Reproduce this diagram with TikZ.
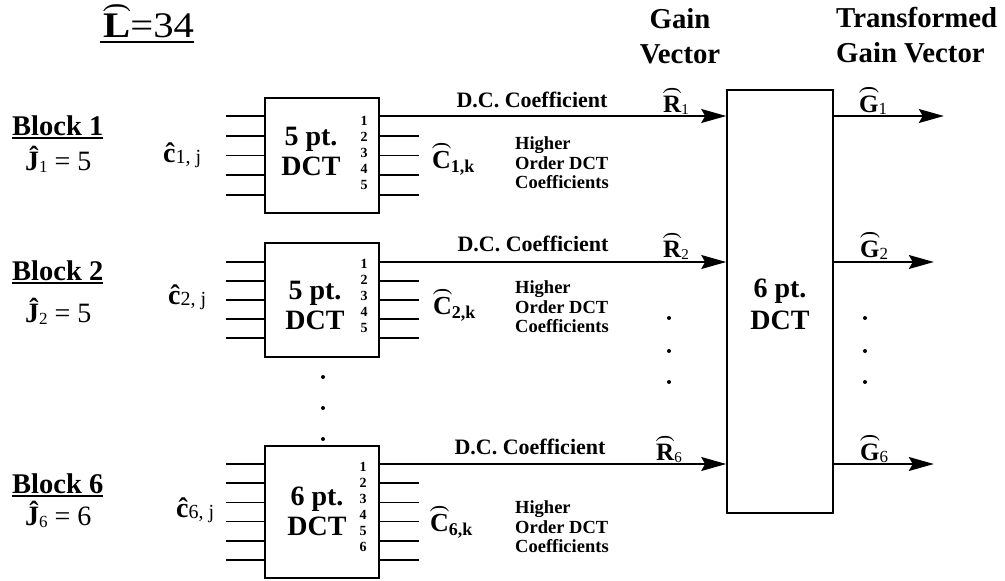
\documentclass[tikz,border=0pt]{standalone}
\usepackage{fontspec}
\setmainfont{Liberation Serif}
\usepackage{graphicx}
\usetikzlibrary{arrows.meta,calc}

\newsavebox\archA
\newsavebox\archB
\newcommand{\archat}[1]{%
  \sbox\archA{#1}%
  \sbox\archB{\resizebox{\wd\archA}{!}{\rotatebox{-90}{\mdseries(}}}%
  \leavevmode\rlap{\hbox to \wd\archA{\hss\raisebox{\dimexpr\ht\archA+\dp\archB+1.5pt\relax}{\usebox\archB}\hss}}%
  \usebox\archA}
\newcommand{\fsz}[1]{\fontsize{#1}{#1}\selectfont}
\newcommand{\lsub}[3]{{\raisebox{-#2pt}{\fontsize{#1}{#1}\selectfont #3}}}

\begin{document}
\begin{tikzpicture}[x=1pt,y=-1pt,
  lbl/.style={inner sep=0pt, anchor=base west},
  head/.style={lbl, font=\fsz{28.8}\bfseries},
  blk/.style={lbl, font=\fsz{28.5}\bfseries},
  jlab/.style={lbl, font=\fsz{28}},
  dctbox/.style={draw, line width=1.6pt, minimum width=114pt, inner sep=0pt},
  boxtxt/.style={inner sep=0pt, align=center, font=\fontsize{28}{30}\selectfont\bfseries},
  nums/.style={inner sep=0pt, align=center, font=\fontsize{14}{16}\selectfont\bfseries},
  dclab/.style={inner sep=0pt, font=\fsz{22}\bfseries},
  hoc/.style={inner sep=0pt, anchor=west, align=left, font=\fontsize{18.5}{19.5}\selectfont\bfseries},
  wire/.style={line width=1.6pt},
  arr/.style={wire, -{Stealth[length=25pt,width=14pt,inset=4pt]}},
  dotn/.style={circle, fill, inner sep=0pt, minimum size=4pt},
  uline/.style={line width=1.5pt}
]
\useasboundingbox (0,0) rectangle (1005,581);

% headers
\node[lbl, font=\fsz{36}] (Lh) at (103,37) {\scalebox{1.13}[1]{\archat{\bfseries L}=34}};
\draw[uline] ([xshift=-3pt,yshift=-5pt]Lh.base west) -- ([yshift=-5pt]Lh.base east);
\node[head, anchor=base] (hgain) at (680,28) {Gain};
\node[head, anchor=base] (hvec) at (680,63) {Vector};
\node[head] (htr) at (836,27) {Transformed};
\node[head] (hgv) at (836,62) {Gain Vector};

% block labels
\node[blk] (blk1) at (12,135) {Block 1};
\draw[uline] ([yshift=-3pt]blk1.base west) -- ([yshift=-3pt]blk1.base east);
\node[jlab] (j1) at (25,170) {{\bfseries Ĵ}\lsub{17}{2}{1} = 5};
\node[blk] (blk2) at (12,280) {Block 2};
\draw[uline] ([yshift=-3pt]blk2.base west) -- ([yshift=-3pt]blk2.base east);
\node[jlab] (j2) at (25,322) {{\bfseries Ĵ}\lsub{17}{2}{2} = 5};
\node[blk] (blk6) at (12,493) {Block 6};
\draw[uline] ([yshift=-3pt]blk6.base west) -- ([yshift=-3pt]blk6.base east);
\node[jlab] (j6) at (25,525) {{\bfseries Ĵ}\lsub{17}{2}{6} = 6};

% input labels
\node[lbl, font=\fsz{28}\bfseries] (c1) at (163,162) {ĉ\lsub{20}{1}{\mdseries 1, j}};
\node[lbl, font=\fsz{28}\bfseries] (c2) at (168,304) {ĉ\lsub{20}{1}{\mdseries 2, j}};
\node[lbl, font=\fsz{28}\bfseries] (c6) at (176,517) {ĉ\lsub{20}{1}{\mdseries 6, j}};

% DCT boxes
\node[dctbox, minimum height=115pt] (b1) at (322,155.5) {};
\node[dctbox, minimum height=114pt] (b2) at (322,300) {};
\node[dctbox, minimum height=132pt] (b6) at (322,512) {};
\node[dctbox, minimum width=106pt, minimum height=423pt] (big) at (780,301.5) {};

\node[boxtxt] (t1) at (311,151) {5 pt.\\DCT};
\node[boxtxt] (t2) at (315,305) {5 pt.\\DCT};
\node[boxtxt] (t6) at (317,511) {6 pt.\\DCT};
\node[boxtxt, font=\fontsize{28}{32}\selectfont\bfseries] (tbig) at (780,304) {6 pt.\\DCT};

\node[nums] (n1) at (364,153) {1\\2\\3\\4\\5};
\node[nums] (n2) at (364,296) {1\\2\\3\\4\\5};
\node[nums] (n6) at (363,507) {1\\2\\3\\4\\5\\6};

% stubs
\foreach \dy in {-39.5,-19.75,0,19.75,39.5}{\draw[wire] ($(b1.west)+(0,\dy)$) -- ++(-38,0);}
\foreach \dy in {-19.75,0,19.75,39.5}{\draw[wire] ($(b1.east)+(0,\dy)$) -- ++(39,0);}
\foreach \dy in {-38,-19,0,19,38}{\draw[wire] ($(b2.west)+(0,\dy)$) -- ++(-38,0);}
\foreach \dy in {-19,0,19,38}{\draw[wire] ($(b2.east)+(0,\dy)$) -- ++(39,0);}
\foreach \dy in {-48,-28.8,-9.6,9.6,28.8,48}{\draw[wire] ($(b6.west)+(0,\dy)$) -- ++(-38,0);}
\foreach \dy in {-28.8,-9.6,9.6,28.8,48}{\draw[wire] ($(b6.east)+(0,\dy)$) -- ++(39,0);}

% DC arrows
\coordinate (r1) at ($(b1.east)+(0,-39.5)$);
\coordinate (r2) at ($(b2.east)+(0,-38)$);
\coordinate (r6) at ($(b6.east)+(0,-48)$);
\draw[arr] (r1) -- (r1 -| big.west);
\draw[arr] (r2) -- (r2 -| big.west);
\draw[arr] (r6) -- (r6 -| big.west);
\coordinate (g1e) at ($(r1 -| big.east)+(110,0)$);
\coordinate (g2e) at ($(r2 -| big.east)+(100,0)$);
\coordinate (g6e) at ($(r6 -| big.east)+(100,0)$);
\draw[arr] (r1 -| big.east) -- (g1e);
\draw[arr] (r2 -| big.east) -- (g2e);
\draw[arr] (r6 -| big.east) -- (g6e);

% arrow labels
\node[dclab] (dc1) at (532,100) {D.C. Coefficient};
\node[dclab] (dc2) at (533,244) {D.C. Coefficient};
\node[dclab] (dc6) at (530,447) {D.C. Coefficient};
\node[lbl, font=\fsz{25}\bfseries] (R1) at (663,112) {\archat{R}\lsub{15}{2}{\mdseries 1}};
\node[lbl, font=\fsz{25}\bfseries] (R2) at (663,257) {\archat{R}\lsub{15}{2}{\mdseries 2}};
\node[lbl, font=\fsz{25}\bfseries] (R6) at (656,460) {\archat{R}\lsub{15}{2}{\mdseries 6}};
\node[lbl, font=\fsz{25}\bfseries] (G1) at (859,112) {\archat{G}\lsub{17}{2}{\mdseries 1}};
\node[lbl, font=\fsz{25}\bfseries] (G2) at (860,257) {\archat{G}\lsub{17}{2}{\mdseries 2}};
\node[lbl, font=\fsz{25}\bfseries] (G6) at (860,460) {\archat{G}\lsub{17}{2}{\mdseries 6}};

\node[lbl, font=\fsz{26}\bfseries] (C1) at (432,168) {\archat{C}\lsub{18}{4}{1,k}};
\node[lbl, font=\fsz{26}\bfseries] (C2) at (433,314) {\archat{C}\lsub{18}{4}{2,k}};
\node[lbl, font=\fsz{26}\bfseries] (C6) at (430,531) {\archat{C}\lsub{18}{4}{6,k}};

\node[hoc] (ho1) at (515,163) {Higher\\Order DCT\\Coefficients};
\node[hoc] (ho2) at (515,307) {Higher\\Order DCT\\Coefficients};
\node[hoc] (ho6) at (515,527) {Higher\\Order DCT\\Coefficients};

% dots
\node[dotn] (vd1) at (323,377) {};
\node[dotn] (vd2) at (323,408) {};
\node[dotn] (vd3) at (323,439) {};
\node[dotn] (md1) at (669,318) {};
\node[dotn] (md2) at (669,351) {};
\node[dotn] (md3) at (669,382) {};
\node[dotn] (gd1) at (865,318) {};
\node[dotn] (gd2) at (865,351) {};
\node[dotn] (gd3) at (865,382) {};
\end{tikzpicture}
\end{document}
